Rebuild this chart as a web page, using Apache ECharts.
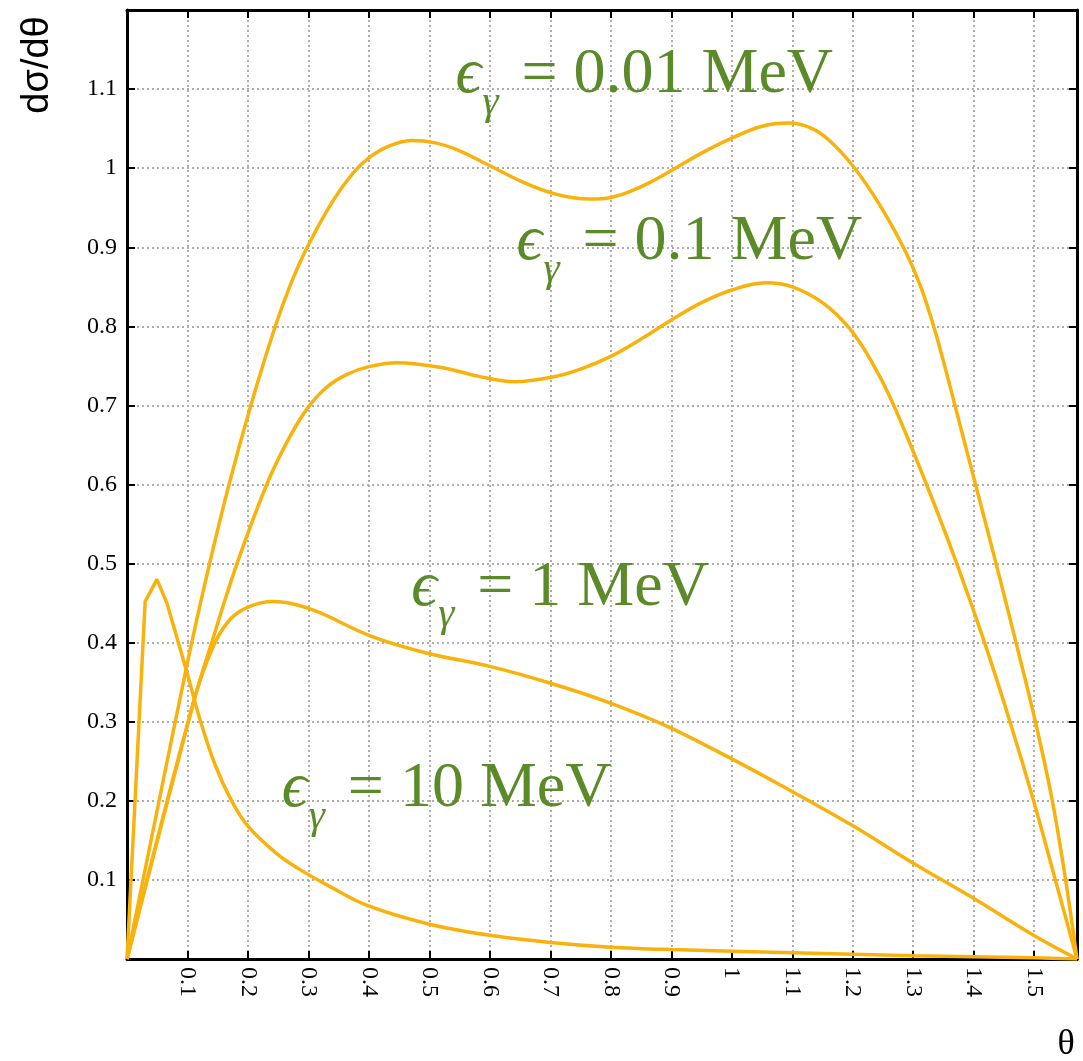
<!DOCTYPE html>
<html>
<head>
<meta charset="utf-8">
<script src="https://cdn.jsdelivr.net/npm/echarts@6/dist/echarts.min.js"></script>
<style>
  html, body { margin: 0; padding: 0; background: #fff; }
  #main { width: 1083px; height: 1061px; }
</style>
</head>
<body>
<div id="main"></div>
<script>
// curves, [theta, dsigma/dtheta]
const e001 = [[0,0],[0.1,0.375],[0.135,0.495],[0.168,0.598],[0.204,0.698],[0.243,0.795],[0.27,0.852],[0.298,0.90],[0.34,0.958],[0.374,0.994],[0.40,1.013],[0.43,1.027],[0.47,1.035],[0.51,1.032],[0.55,1.022],[0.6,1.003],[0.65,0.984],[0.7,0.969],[0.735,0.963],[0.767,0.961],[0.80,0.963],[0.83,0.970],[0.865,0.982],[0.9,0.997],[0.95,1.019],[1.0,1.038],[1.05,1.053],[1.095,1.057],[1.13,1.051],[1.16,1.036],[1.2,1.003],[1.245,0.953],[1.287,0.895],[1.313,0.849],[1.335,0.797],[1.352,0.750],[1.369,0.70],[1.403,0.60],[1.437,0.50],[1.470,0.40],[1.502,0.30],[1.530,0.20],[1.552,0.10],[1.5708,0]]
const e01 = [[0,0],[0.11,0.325],[0.14,0.40],[0.181,0.498],[0.231,0.60],[0.264,0.653],[0.297,0.695],[0.33,0.723],[0.363,0.739],[0.40,0.749],[0.446,0.754],[0.52,0.748],[0.58,0.737],[0.641,0.730],[0.704,0.736],[0.75,0.746],[0.80,0.762],[0.85,0.784],[0.902,0.809],[0.95,0.830],[1.0,0.846],[1.056,0.855],[1.10,0.850],[1.15,0.830],[1.194,0.798],[1.23,0.757],[1.265,0.705],[1.322,0.60],[1.372,0.50],[1.418,0.40],[1.460,0.30],[1.499,0.20],[1.535,0.10],[1.5708,0]]
const e1 = [[0,0],[0.11,0.325],[0.143,0.396],[0.170,0.429],[0.20,0.445],[0.242,0.452],[0.28,0.448],[0.319,0.438],[0.401,0.409],[0.495,0.387],[0.600,0.370],[0.699,0.349],[0.798,0.324],[0.897,0.293],[1.0,0.253],[1.078,0.221],[1.199,0.169],[1.298,0.122],[1.397,0.078],[1.499,0.030],[1.5708,0]]
const e10 = [[0,0],[0.030,0.452],[0.0495,0.480],[0.066,0.450],[0.088,0.392],[0.100,0.360],[0.121,0.302],[0.146,0.245],[0.173,0.200],[0.201,0.167],[0.248,0.133],[0.286,0.113],[0.33,0.094],[0.396,0.068],[0.5,0.044],[0.6,0.030],[0.7,0.021],[0.8,0.015],[0.9,0.012],[1.1,0.008],[1.3,0.004],[1.5,0.0015],[1.5708,0]]

const labelTexts = ['= 0.01 MeV', '= 0.1 MeV', '= 1 MeV', '= 10 MeV']
const labelAnchors = [[0.543, 1.090], [0.644, 0.879], [0.470, 0.442], [0.256, 0.187]]

const lineColor = '#F9B20C'
const green = '#5B8A29'
const serif = '"Liberation Serif", "DejaVu Serif", serif'
const gridLine = { show: true, lineStyle: { color: '#adadad', width: 2, type: [2, 3] } }

function curve(data, smooth) {
  return {
    type: 'line',
    data: data,
    smooth: smooth,
    symbol: 'none',
    lineStyle: { color: lineColor, width: 3.5 },
    animation: false
  }
}

function tickFmt(v, top) {
  if (v <= 0.001 || v >= top - 0.01) return ''
  return String(+v.toFixed(1))
}

const chart = echarts.init(document.getElementById('main'))

const frameAxis = {
  axisLine: { show: true, onZero: false, lineStyle: { color: '#000', width: 3 } },
  axisTick: { show: true, inside: true, length: 8, lineStyle: { color: '#000', width: 2 } },
  axisLabel: { show: false },
  splitLine: { show: false }
}

chart.setOption({
  animation: false,
  grid: { left: 127, right: 6, top: 10, bottom: 102 },
  xAxis: [{
    type: 'value', min: 0, max: Math.PI / 2, interval: 0.1,
    axisLine: { onZero: false, lineStyle: { color: '#000', width: 3 } },
    axisTick: { inside: true, length: 8, lineStyle: { color: '#000', width: 2 } },
    axisLabel: {
      rotate: -90, margin: 8, color: '#000', fontSize: 24, fontFamily: serif,
      formatter: v => tickFmt(v, 1.56)
    },
    splitLine: gridLine
  }, Object.assign({ type: 'value', min: 0, max: Math.PI / 2, interval: 0.1, position: 'top' }, frameAxis)],
  yAxis: [{
    type: 'value', min: 0, max: 1.2, interval: 0.1,
    axisLine: { show: true, onZero: false, lineStyle: { color: '#000', width: 3 } },
    axisTick: { show: true, inside: true, length: 8, lineStyle: { color: '#000', width: 2 } },
    axisLabel: {
      margin: 10, color: '#000', fontSize: 24, fontFamily: serif,
      formatter: v => tickFmt(v, 1.2)
    },
    splitLine: gridLine
  }, Object.assign({ type: 'value', min: 0, max: 1.2, interval: 0.1, position: 'right' }, frameAxis)],
  series: [
    curve(e001, 0.35),
    curve(e01, 0.35),
    curve(e1, 0.35),
    curve(e10.slice(0, 4), false),
    curve(e10.slice(3), 0.35)
  ]
})

// annotations: epsilon, subscript gamma and the energy text
const mainSize = 64, subSize = 41
const graphics = labelAnchors.map((a, i) => {
  const p = chart.convertToPixel({ xAxisIndex: 0, yAxisIndex: 0 }, a)
  return {
    type: 'group', x: p[0], y: p[1], silent: true,
    children: [
      { type: 'text', x: 0, y: -0.34 * mainSize,
        style: { text: 'ϵ', fill: green, font: 'italic ' + mainSize + 'px ' + serif, verticalAlign: 'middle' } },
      { type: 'text', x: 27, y: 20 - 0.34 * subSize,
        style: { text: 'γ', fill: green, font: 'italic ' + subSize + 'px ' + serif, verticalAlign: 'middle' } },
      { type: 'text', x: 66, y: -0.34 * mainSize,
        style: { text: labelTexts[i], fill: green, font: mainSize + 'px ' + serif, verticalAlign: 'middle' } }
    ]
  }
})
graphics.push({
  type: 'text', x: 38, y: 65, rotation: Math.PI / 2, silent: true,
  style: { text: 'dσ/dθ', fill: '#000', font: '38px "Liberation Sans", Arial, sans-serif', align: 'center', verticalAlign: 'middle' }
})
graphics.push({
  type: 'text', x: 1066, y: 1045, silent: true,
  style: { text: 'θ', fill: '#000', font: '36px ' + serif, align: 'center', verticalAlign: 'middle' }
})
chart.setOption({ graphic: graphics })
</script>
</body>
</html>
